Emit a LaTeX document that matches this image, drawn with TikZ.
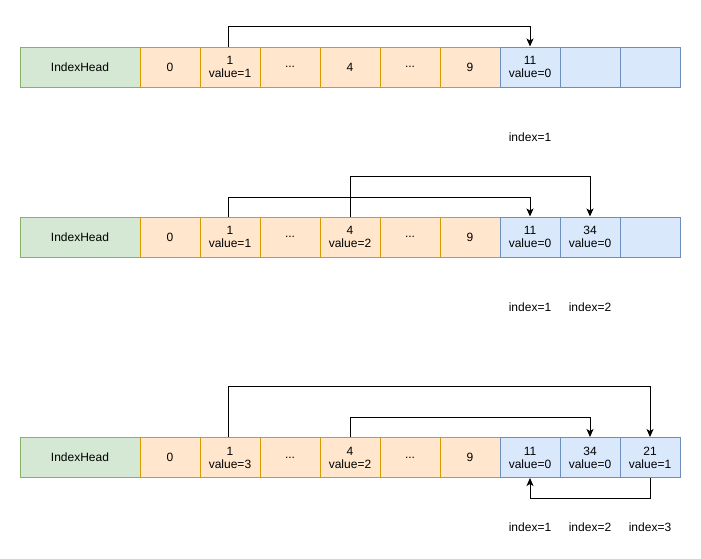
\documentclass[tikz,border=0pt]{standalone}
\usepackage{fontspec}
\setmainfont{Liberation Sans}
\usepackage{tikz}
\usetikzlibrary{arrows.meta}
\usetikzlibrary{positioning}
\tikzset{>={Stealth[length=8pt,width=7pt,inset=2pt]}}
\definecolor{headfill}{HTML}{D5E8D4}
\definecolor{headline}{HTML}{82B366}
\definecolor{slotfill}{HTML}{FFE6CC}
\definecolor{slotline}{HTML}{D79B00}
\definecolor{bktfill}{HTML}{DAE8FC}
\definecolor{bktline}{HTML}{6C8EBF}
\tikzstyle{cell}=[draw,line width=1pt,minimum height=40pt,inner sep=0pt,align=center,font=\fontsize{12}{13}\selectfont]
\tikzstyle{head}=[cell,fill=headfill,draw=headline,minimum width=120pt]
\tikzstyle{slot}=[cell,fill=slotfill,draw=slotline,minimum width=60pt]
\tikzstyle{bucket}=[cell,fill=bktfill,draw=bktline,minimum width=60pt]
\tikzstyle{link}=[->,line width=1pt,black]
\newcommand{\gap}{...}

\begin{document}
\begin{tikzpicture}[x=1pt,y=1pt]
  \tikzstyle{every node}=[font=\fontsize{12}{13}\selectfont]
  \useasboundingbox (0,0) rectangle (701,-558);

  % row 1
  \node[head] (ha) at (80,-67) {IndexHead};
  \foreach \t [count=\i from 0] in {0,{1\\value=1},\gap,4,\gap,9}
    \node[slot] (a\i) at (170+60*\i,-67) {\t};
  \foreach \t [count=\i from 0] in {{11\\value=0},{},{}}
    \node[bucket] (ab\i) at (530+60*\i,-67) {\t};
  \node (ia1) at (ab0) [yshift=-70] {index=1};
  \draw[link] ([xshift=-2]a1.north) -- ++(0,20) -| (ab0.north);

  % row 2
  \node[head] (hb) at (80,-237) {IndexHead};
  \foreach \t [count=\i from 0] in {0,{1\\value=1},\gap,{4\\value=2},\gap,9}
    \node[slot] (b\i) at (170+60*\i,-237) {\t};
  \foreach \t [count=\i from 0] in {{11\\value=0},{34\\value=0},{}}
    \node[bucket] (bb\i) at (530+60*\i,-237) {\t};
  \node (ib1) at (bb0) [yshift=-70] {index=1};
  \node (ib2) at (bb1) [yshift=-70] {index=2};
  \draw[link] ([xshift=-2]b1.north) -- ++(0,19) -| (bb0.north);
  \draw[link] (b3.north) -- ++(0,40) -| (bb1.north);

  % row 3
  \node[head] (hc) at (80,-457.5) {IndexHead};
  \foreach \t [count=\i from 0] in {0,{1\\value=3},\gap,{4\\value=2},\gap,9}
    \node[slot] (c\i) at (170+60*\i,-457.5) {\t};
  \foreach \t [count=\i from 0] in {{11\\value=0},{34\\value=0},{21\\value=1}}
    \node[bucket] (cb\i) at (530+60*\i,-457.5) {\t};
  \node (ic1) at (cb0) [yshift=-70] {index=1};
  \node (ic2) at (cb1) [yshift=-70] {index=2};
  \node (ic3) at (cb2) [yshift=-70] {index=3};
  \draw[link] ([xshift=-2]c1.north) -- ++(0,51) -| (cb2.north);
  \draw[link] (c3.north) -- ++(0,20) -| (cb1.north);
  \draw[link] (cb2.south) -- ++(0,-20) -| (cb0.south);

\end{tikzpicture}
\end{document}
